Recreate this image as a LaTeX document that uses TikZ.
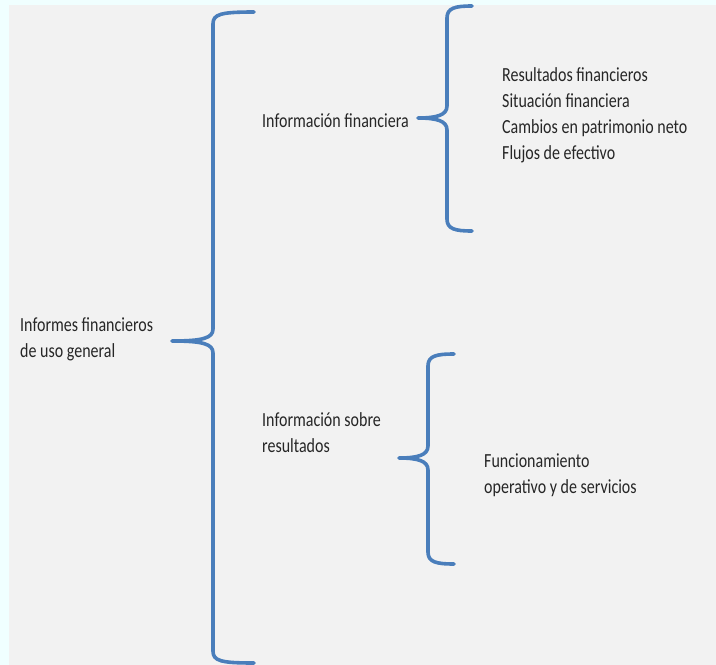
\documentclass[tikz,border=0pt]{standalone}
\usepackage{fontspec}
\setmainfont{Carlito}[FakeStretch=0.8]
\usepackage{xcolor}
\definecolor{llaveazul}{HTML}{4A7EBB}
\definecolor{fondo}{HTML}{F2F2F2}
\definecolor{margen}{HTML}{F0FFFF}
\tikzstyle{texto} = [anchor=base west, inner sep=0pt, align=left,
text=black!85, font=\fontsize{20}{26}\selectfont]
\tikzstyle{llave} = [line width=3.6pt, draw=llaveazul, line cap=round,
line join=round]
% brace: x of stem, top y, bottom y, x of ends, x of tip, y of tip
\newcommand{\dibujallave}[6]{%
  \draw [llave] (#4,#2) .. controls ({#1+8},#2) and (#1,{#2+2}) .. (#1,{#2+12})
    -- (#1,{#6-12}) .. controls (#1,{#6-3}) and ({#1-10},#6) .. (#5,#6)
    .. controls ({#1-10},#6) and (#1,{#6+3}) .. (#1,{#6+12})
    -- (#1,{#3-12}) .. controls (#1,{#3-2}) and ({#1+8},#3) .. (#4,#3);}

\begin{document}
\begin{tikzpicture}[x=1pt, y=-1pt]
  % Background
  \useasboundingbox (0,0) rectangle (716,665);
  \fill [margen] (0,0) rectangle (716,665);
  \fill [fondo] (9,5) rectangle (716,665);
  % Texts (base = last line)
  \node (informes) [texto] at (20,357) {Informes financieros\\de uso general};
  \node (finan) [texto] at (262,127) {Información financiera};
  \node (sobre) [texto] at (262,452) {Información sobre\\resultados};
  \node (estados) [texto] at (502,159) {Resultados financieros\\Situación financiera\\Cambios en patrimonio neto\\Flujos de efectivo};
  \node (funcion) [texto] at (484,493) {Funcionamiento\\operativo y de servicios};
  % Braces
  \dibujallave{213}{12}{663}{254}{172}{341}
  \dibujallave{447}{6}{231}{472}{418}{118}
  \dibujallave{428}{354}{564}{454}{399}{458}
\end{tikzpicture}
\end{document}
